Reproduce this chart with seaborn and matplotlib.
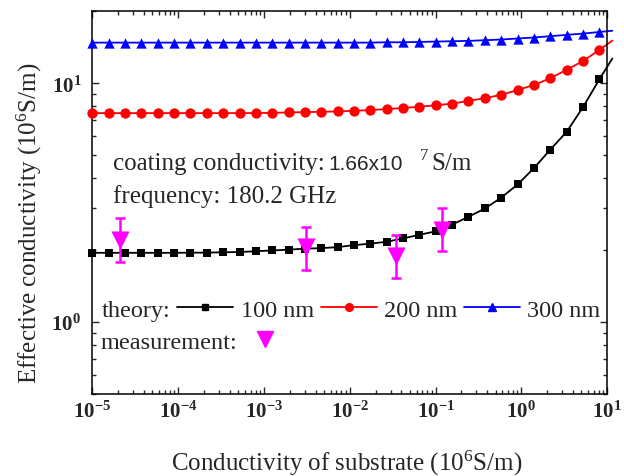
import numpy as np
import pandas as pd
import matplotlib
matplotlib.use("Agg")
import matplotlib.pyplot as plt
import seaborn as sns
from matplotlib.lines import Line2D

# substrate conductivity (10^6 S/m) of the theory points
x_theory = [1.0e-5, 1.55e-5, 2.41e-5, 3.73e-5, 5.79e-5, 8.98e-5, 1.39e-4, 2.16e-4,
            3.35e-4, 5.19e-4, 8.05e-4, 1.25e-3, 1.94e-3, 3.00e-3, 4.66e-3, 7.24e-3,
            1.12e-2, 1.74e-2, 2.70e-2, 4.19e-2, 6.50e-2, 0.101, 0.156, 0.242,
            0.376, 0.583, 0.905, 1.40, 2.18, 3.38, 5.24, 8.13]
sigma_100nm = [1.95, 1.95, 1.95, 1.95, 1.95, 1.95, 1.953, 1.953, 1.96, 1.965, 1.98,
               1.995, 2.01, 2.03, 2.04, 2.06, 2.10, 2.13, 2.17, 2.24, 2.32, 2.40,
               2.56, 2.76, 2.99, 3.32, 3.77, 4.41, 5.28, 6.27, 7.95, 10.4]
sigma_200nm = [7.50, 7.50, 7.50, 7.50, 7.50, 7.50, 7.50, 7.50, 7.50, 7.50, 7.50,
               7.52, 7.55, 7.57, 7.60, 7.62, 7.67, 7.72, 7.80, 7.88, 7.98, 8.09,
               8.22, 8.44, 8.66, 8.95, 9.37, 9.84, 10.5, 11.4, 12.4, 13.8]
sigma_300nm = [14.8, 14.8, 14.8, 14.8, 14.8, 14.8, 14.8, 14.8, 14.8, 14.8, 14.8,
               14.8, 14.8, 14.8, 14.8, 14.8, 14.8, 14.8, 14.85, 14.85, 14.9, 14.95,
               15.0, 15.05, 15.15, 15.25, 15.4, 15.55, 15.75, 15.95, 16.15, 16.4]
# curves run on a little past the last marker
x_line_end = 11.5
line_end = [12.7, 15.1, 16.6]

# measurements
x_meas = [2.1e-5, 3.1e-3, 0.035, 0.12]
y_meas = [2.20, 2.06, 1.89, 2.44]
y_low = [1.79, 1.66, 1.53, 1.99]
y_high = [2.73, 2.51, 2.31, 2.99]

thickness = ["100 nm", "200 nm", "300 nm"]
colors = ["black", "#FF0000", "#0000FF"]
markers = ["s", "o", "^"]
marker_area = [30, 55, 55]
magenta = "#FF00FF"

sns.set_theme(style="ticks")
plt.rcParams["font.family"] = ["Liberation Serif", "DejaVu Serif"]
plt.rcParams["mathtext.fontset"] = "custom"
plt.rcParams["mathtext.rm"] = "Liberation Serif"
plt.rcParams["mathtext.default"] = "regular"
plt.rcParams.update({
    "xtick.direction": "in", "ytick.direction": "in",
    "xtick.top": True, "ytick.right": True,
    "xtick.major.size": 5, "ytick.major.size": 5,
    "xtick.minor.size": 3, "ytick.minor.size": 3,
    "xtick.major.width": 1, "ytick.major.width": 1,
    "xtick.minor.width": 1, "ytick.minor.width": 1,
    "xtick.major.pad": 5, "ytick.major.pad": 8,
    "axes.linewidth": 1.1, "axes.edgecolor": "black",
})

fig = plt.figure(figsize=(6.24, 4.77), dpi=100)
ax = fig.add_axes([0.148, 0.172, 0.825, 0.802])
ax.set_xscale("log")
ax.set_yscale("log")

theory_values = [sigma_100nm, sigma_200nm, sigma_300nm]
for name, ys, yend, c, m, s in zip(thickness, theory_values, line_end, colors, markers, marker_area):
    sns.lineplot(x=x_theory + [x_line_end], y=ys + [yend], color=c, lw=1.3, ax=ax,
                 estimator=None, sort=False, clip_on=False, legend=False)
    sns.scatterplot(x=x_theory, y=ys, color=c, marker=m, s=s, linewidth=0, ax=ax,
                    clip_on=False, zorder=3, legend=False)

yerr = [np.subtract(y_meas, y_low), np.subtract(y_high, y_meas)]
ax.errorbar(x_meas, y_meas, yerr=yerr, fmt="none", ecolor=magenta, elinewidth=1.8,
            capsize=3.5, capthick=1.8, zorder=4)
sns.scatterplot(x=x_meas, y=y_meas, marker="v", s=170, color=magenta, linewidth=0,
                ax=ax, zorder=5, legend=False)

ax.set_xlim(1e-5, 10)
ax.set_ylim(0.5, 20)
xt = [1e-5, 1e-4, 1e-3, 1e-2, 1e-1, 1e0, 1e1]
ax.set_xticks(xt, [r"$\mathdefault{10^{%d}}$" % int(np.log10(v)) for v in xt],
              fontsize=15, fontweight="bold")
yt = [1e0, 1e1]
ax.set_yticks(yt, [r"$\mathdefault{10^{%d}}$" % int(np.log10(v)) for v in yt],
              fontsize=15, fontweight="bold")

ax.set_xlabel(r"Conductivity of substrate ($\mathdefault{10^6}$S/m)", fontsize=18)
ax.set_ylabel(r"Effective conductivity ($\mathdefault{10^6}$S/m)", fontsize=18)
ax.xaxis.set_label_coords(0.495, -0.141)
ax.yaxis.set_label_coords(-0.094, 0.449)

# annotation
t1 = ax.text(0.040, 0.588, "coating conductivity:", fontsize=18, transform=ax.transAxes,
             va="baseline")
t2 = ax.annotate("1.66x10", xy=(1, 0.588), xycoords=(t1, "axes fraction"),
                 xytext=(3, 0), textcoords="offset points", va="baseline",
                 fontsize=15, family="Liberation Sans")
t3 = ax.annotate("7", xy=(1, 0.588), xycoords=(t2, "axes fraction"),
                 xytext=(12, 7), textcoords="offset points", va="baseline", fontsize=12)
ax.annotate("S/m", xy=(1, 0.588), xycoords=(t3, "axes fraction"),
            xytext=(2, 0), textcoords="offset points", va="baseline", fontsize=18)
ax.text(0.040, 0.503, "frequency: 180.2 GHz", fontsize=18, transform=ax.transAxes,
        va="baseline")

# legend: label first, then the sample line
handles = [Line2D([], [], color=c, lw=1.3, marker=m, ms=ms)
           for c, m, ms in zip(colors, markers, [4.5, 5.5, 5.5])]
handles.append(Line2D([], [], linestyle="none"))
leg1 = ax.legend(handles, ["theory:"] + thickness, ncol=4, markerfirst=False,
                 handlelength=2.3, handletextpad=0.28, columnspacing=0.3,
                 frameon=False, fontsize=17.5, loc="center left",
                 bbox_to_anchor=(0.0185, 0.2195), borderpad=0, borderaxespad=0)
ax.add_artist(leg1)
meas_handle = Line2D([], [], linestyle="none", marker="v", ms=11, color=magenta)
ax.legend([meas_handle], ["measurement:"], markerfirst=False, handlelength=1.75,
          handletextpad=0.3, frameon=False, fontsize=17.5, loc="center left",
          bbox_to_anchor=(0.015, 0.137), borderpad=0, borderaxespad=0)

fig.savefig("out.png", dpi=100)
